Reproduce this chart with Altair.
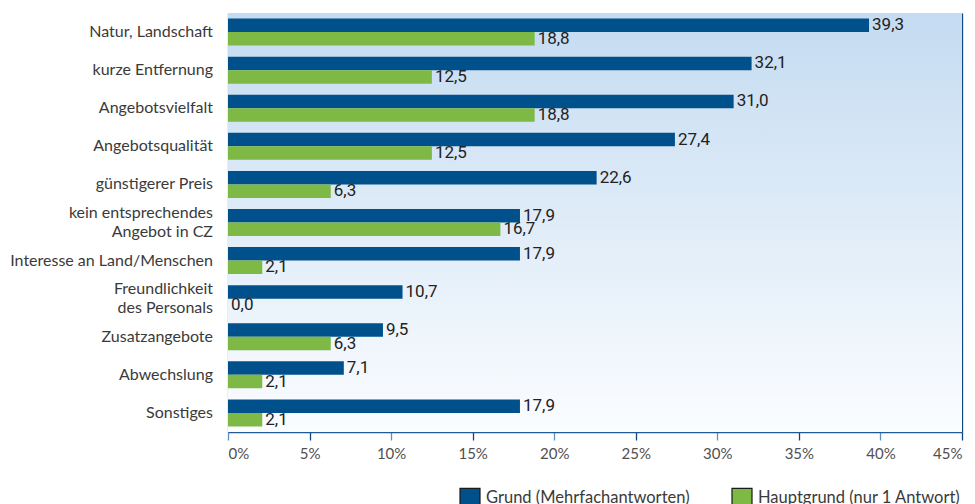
import altair as alt
import pandas as pd

categories = [
    "Natur, Landschaft",
    "kurze Entfernung",
    "Angebotsvielfalt",
    "Angebotsqualität",
    "günstigerer Preis",
    "kein entsprechendes|Angebot in CZ",
    "Interesse an Land/Menschen",
    "Freundlichkeit|des Personals",
    "Zusatzangebote",
    "Abwechslung",
    "Sonstiges",
]
series = ["Grund (Mehrfachantworten)", "Hauptgrund (nur 1 Antwort)"]
grund = [39.3, 32.1, 31.0, 27.4, 22.6, 17.9, 17.9, 10.7, 9.5, 7.1, 17.9]
hauptgrund = [18.8, 12.5, 18.8, 12.5, 6.3, 16.7, 2.1, 0.0, 6.3, 2.1, 2.1]
x_ticks = [0, 5, 10, 15, 20, 25, 30, 35, 40, 45]
colors = ["#00508c", "#7db944"]

rows = []
for c, g, h in zip(categories, grund, hauptgrund):
    rows.append({"cat": c, "series": series[0], "value": g})
    rows.append({"cat": c, "series": series[1], "value": h})
df = pd.DataFrame(rows)

lab_rows = []
for c in categories:
    parts = c.split("|")
    if len(parts) == 1:
        lab_rows.append({"cat": c, "line": parts[0], "pos": "mid"})
    else:
        lab_rows.append({"cat": c, "line": parts[0], "pos": "top"})
        lab_rows.append({"cat": c, "line": parts[1], "pos": "bot"})
df_lab = pd.DataFrame(lab_rows)

W, H = 734, 419
FONT = "Lato"

x_scale = alt.Scale(domain=[0, 45], nice=False, zero=True)
y_scale = alt.Scale(domain=categories, paddingInner=0.29, paddingOuter=0.145)

dark_grid = "#0d4785"
light_grid = "#5d91c3"
cond_color = {"condition": {"test": "datum.value % 10 === 5", "value": dark_grid}, "value": light_grid}

bg = alt.Chart(pd.DataFrame({"a": [0]})).mark_rect(
    color=alt.Gradient(
        gradient="linear",
        stops=[alt.GradientStop(color="#c4dbf1", offset=0),
               alt.GradientStop(color="#fbfdff", offset=1)],
        x1=0, x2=0, y1=0, y2=1,
    )
).encode(x=alt.value(0), x2=alt.value("width"), y=alt.value(0), y2=alt.value("height"))

base = alt.Chart(df)

bars = base.mark_bar(size=13.5).encode(
    x=alt.X("value:Q", scale=x_scale,
            axis=alt.Axis(values=x_ticks, labelExpr="datum.value + '%'", title=None,
                          grid=True, gridColor=cond_color, tickColor=cond_color,
                          gridWidth=1.3, tickWidth=1.3, tickSize=8,
                          domainColor="#1f5a96", domainWidth=1.5,
                          labelFont=FONT, labelFontSize=15, labelColor="#505050",
                          labelPadding=6)),
    y=alt.Y("cat:N", scale=y_scale, sort=categories,
            axis=alt.Axis(title=None, labels=False,
                          tickBand="extent", tickSize=8, tickColor="#3f7ab6", tickWidth=1.5,
                          domainColor="#1f5a96", domainWidth=1.5)),
    yOffset=alt.YOffset("series:N", sort=series, scale=alt.Scale(paddingInner=0, paddingOuter=0)),
    color=alt.Color("series:N", sort=series, scale=alt.Scale(domain=series, range=colors),
                    legend=alt.Legend(orient="none", legendX=231, legendY=474, direction="horizontal",
                                      title=None, symbolType="square", symbolSize=400,
                                      symbolStrokeColor="#1a1a1a", symbolStrokeWidth=1.2,
                                      labelFont=FONT, labelFontSize=16.5, labelColor="#3a3a3a",
                                      labelLimit=320, columnPadding=39, labelOffset=5, padding=0)),
)

labels = base.transform_calculate(
    txt="replace(format(datum.value, '.1f'), '.', ',')"
).mark_text(align="left", baseline="middle", dx=3, font="Roboto", fontSize=17, color="#222222").encode(
    x=alt.X("value:Q", scale=x_scale),
    y=alt.Y("cat:N", scale=y_scale, sort=categories),
    yOffset=alt.YOffset("series:N", sort=series),
    text="txt:N",
)

def cat_text(pos, dy):
    return alt.Chart(df_lab).transform_filter(
        alt.datum.pos == pos
    ).mark_text(align="right", baseline="middle", dy=dy, font=FONT, fontSize=16,
                color="#3a3a3a").encode(
        x=alt.value(-15),
        y=alt.Y("cat:N", scale=y_scale, sort=categories, axis=None),
        text="line:N",
    )

chart = alt.layer(bg, bars, labels, cat_text("mid", 0), cat_text("top", -9.5), cat_text("bot", 9.5)).properties(
    width=W, height=H,
    autosize=alt.AutoSizeParams(type="none"),
    padding={"left": 228, "top": 13, "right": 13, "bottom": 72},
).configure_view(stroke="#4a82ba", strokeWidth=1.2).configure(background="white")

chart.save("out.html", embed_options={"renderer": "svg", "actions": False})
